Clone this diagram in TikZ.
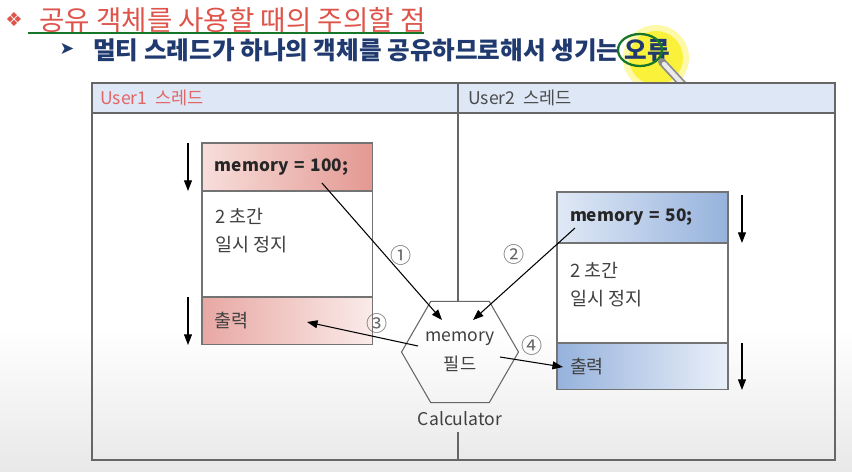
\documentclass[tikz,border=0pt]{standalone}
\usepackage{fontspec}
\setmainfont{Noto Sans CJK KR}
\newfontfamily\symfont{DejaVu Sans}
\usetikzlibrary{arrows.meta,shapes.geometric,positioning,calc}

\definecolor{titlered}{RGB}{222,84,74}
\definecolor{linegreen}{RGB}{24,118,40}
\definecolor{navy}{RGB}{32,58,112}
\definecolor{hdrblue}{RGB}{221,231,245}
\definecolor{userred}{RGB}{226,102,102}
\definecolor{pinklight}{RGB}{247,222,219}
\definecolor{pinkdark}{RGB}{228,152,146}
\definecolor{bluelight}{RGB}{224,233,246}
\definecolor{bluedark}{RGB}{150,178,220}
\definecolor{hilite}{RGB}{250,240,40}

\begin{document}
\begin{tikzpicture}[x=0.02cm, y=-0.02cm,
    frame/.style={draw=black!60, line width=0.8pt},
    cell/.style={draw=black!55, line width=0.6pt, outer sep=0pt, minimum width=3.42cm, inner xsep=0.26cm, text width=2.9cm, align=left, font=\fontsize{10.5}{12}\selectfont, text=black!75},
    codebox/.style={cell, minimum height=0.96cm, font=\fontsize{9.8}{12}\selectfont\bfseries, text=black!85},
    flow/.style={-{Triangle[length=6pt,width=4.5pt]}, line width=0.6pt},
    num/.style={font=\fontsize{12}{12}\selectfont, text=black!60, inner sep=1pt},
    lbl/.style={font=\fontsize{10}{12}\selectfont, inner sep=0pt, anchor=west}
]
\useasboundingbox (0,0) rectangle (852,471);
\fill[white] (0,0) rectangle (852,471);
\shade[top color=white, bottom color=black!9] (0,330) rectangle (852,471);

% title lines
\fill[hilite, opacity=0.4] (656,58) circle (33);
\fill[hilite, opacity=0.85] (656,58) circle (27);
\node[text=titlered, font=\symfont\fontsize{11}{11}\selectfont] (bul1) at (14,19) {❖};
\node[lbl, text=titlered, font=\fontsize{15.7}{17}\selectfont] (title) at (39,20) {공유 객체를 사용할 때의 주의할 점};
\draw[linegreen, line width=1.7pt] (28,33) -- (424,33);
\node[text=navy, font=\symfont\fontsize{10}{10}\selectfont] (bul2) at (67,49) {➤};
\node[lbl, text=navy, font=\fontsize{14}{16}\selectfont\bfseries] (sub) at (93,50) {멀티 스레드가 하나의 객체를 공유하므로해서 생기는 오류};
\draw[linegreen, line width=1.3pt] (640,50) ellipse (22 and 16);
\draw[line width=4.5pt, black!45, line cap=round] (662,62) -- (688,90);
\draw[line width=2.5pt, black!8, line cap=round] (664,64) -- (686,88);
\fill[black!60] (688,90) circle (2.5);

% frame
\fill[hdrblue] (92,83) rectangle (835,113);
\draw[frame] (92,83) rectangle (835,460);
\draw[frame] (92,113) -- (835,113);
\node[lbl, text=userred] (u1lbl) at (100,98) {User1\ \ 스레드};
\node[lbl, text=black!70] (u2lbl) at (468,98) {User2\ \ 스레드};

% user1 thread
\node[codebox, left color=pinklight, right color=pinkdark, anchor=north west] (u1mem) at (202,143) {memory = 100;};
\node[cell, minimum height=2.12cm, anchor=north] (u1wait) at (u1mem.south) {};
\node[cell, minimum height=0.96cm, anchor=north, left color=pinkdark!85!white, right color=pinklight!60!white] (u1out) at (u1wait.south) {출력};
\node[lbl, font=\fontsize{10.5}{16}\selectfont, anchor=north west, align=left, text=black!75] (u1txt) at ($(u1wait.north west)+(13,17)$) {2 초간\\일시 정지};

% user2 thread
\node[codebox, left color=bluelight, right color=bluedark, anchor=north west, minimum height=1.02cm] (u2mem) at (557,192) {memory = 50;};
\node[cell, minimum height=2.0cm, anchor=north] (u2wait) at (u2mem.south) {};
\node[cell, minimum height=0.94cm, anchor=north, left color=bluedark, right color=bluelight!70!white] (u2out) at (u2wait.south) {출력};
\node[lbl, font=\fontsize{10.5}{16}\selectfont, anchor=north west, align=left, text=black!75] (u2txt) at ($(u2wait.north west)+(13,19)$) {2 초간\\일시 정지};

% shared object
\node[draw=black!60, line width=0.6pt, regular polygon, regular polygon sides=6, minimum size=2.34cm, inner sep=0pt, align=center, font=\fontsize{10}{16.5}\selectfont, text=black!75] (calc) at (460,352) {memory\\필드};
\node[font=\fontsize{10}{12}\selectfont, text=black!75] (calclbl) at (460,419) {Calculator};
\coordinate (divtop) at (458,83);
\coordinate (divbot) at (458,460);
\draw[frame] (divtop) -- (divtop |- calc.north);
\draw[frame] (calclbl.south -| divbot) -- (divbot);

% timelines
\draw[flow] ($(u1mem.north west)+(-14,0)$) -- ($(u1mem.south west)+(-14,0)$);
\draw[flow] ($(u1out.north west)+(-14,0)$) -- ($(u1out.south west)+(-14,0)$);
\draw[flow] ($(u2mem.north east)+(14,3)$) -- ($(u2mem.south east)+(14,0)$);
\draw[flow] ($(u2out.north east)+(14,0)$) -- ($(u2out.south east)+(14,0)$);

% accesses
\coordinate (set1) at (322,183);
\coordinate (hit1) at (442,320);
\coordinate (set2) at (575,228);
\coordinate (hit2) at (473,320);
\coordinate (get1) at (418,346);
\coordinate (out1) at (307,322);
\coordinate (get2) at (500,357);
\coordinate (out2) at (563,367);
\draw[flow] (set1) -- (hit1);
\draw[flow] (set2) -- (hit2);
\draw[flow] (get1) -- (out1);
\draw[flow] (get2) -- (out2);
\node[num] (n1) at (401,255) {①};
\node[num] (n2) at (514,254) {②};
\node[num] (n3) at (377,323) {③};
\node[num] (n4) at (532,345) {④};
\end{tikzpicture}
\end{document}
